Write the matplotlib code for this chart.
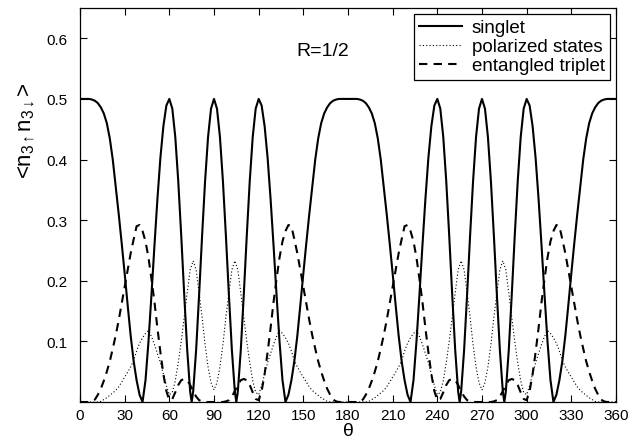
import numpy as np
import matplotlib
matplotlib.use('Agg')
import matplotlib.pyplot as plt

plt.rcParams['font.family'] = ['Liberation Sans', 'DejaVu Sans']
plt.rcParams['mathtext.fontset'] = 'custom'
plt.rcParams['mathtext.rm'] = 'Liberation Sans'
plt.rcParams['mathtext.it'] = 'Liberation Sans'

# angle grid, degrees (2 degree steps)
theta = np.arange(0, 362, 2)
# singlet also gets the exact zero points at 75, 105, 255, 285
theta_s = np.sort(np.concatenate([theta, [75, 105, 255, 285]]))

# singlet (solid)
singlet = [
    0.500, 0.500, 0.500, 0.500, 0.499, 0.497, 0.493, 0.486, 0.476, 0.460,
    0.435, 0.400, 0.355, 0.310, 0.262, 0.212, 0.160, 0.110, 0.068, 0.036,
    0.012, 0.000, 0.036, 0.100, 0.177, 0.258, 0.335, 0.403, 0.455, 0.489,
    0.500, 0.484, 0.437, 0.364, 0.274, 0.177, 0.086, 0.017, 0.000, 0.017, 0.086,
    0.177, 0.274, 0.364, 0.437, 0.484, 0.500, 0.484, 0.437, 0.364, 0.274,
    0.177, 0.086, 0.017, 0.000, 0.017, 0.086, 0.177, 0.274, 0.364, 0.437, 0.484,
    0.500, 0.489, 0.455, 0.403, 0.335, 0.258, 0.177, 0.100, 0.036, 0.000,
    0.012, 0.036, 0.068, 0.110, 0.160, 0.212, 0.262, 0.310, 0.355, 0.400,
    0.435, 0.460, 0.476, 0.486, 0.493, 0.497, 0.499, 0.500, 0.500, 0.500,
    0.500, 0.500, 0.500, 0.500, 0.499, 0.497, 0.493, 0.486, 0.476, 0.460,
    0.435, 0.400, 0.355, 0.310, 0.262, 0.212, 0.160, 0.110, 0.068, 0.036,
    0.012, 0.000, 0.036, 0.100, 0.177, 0.258, 0.335, 0.403, 0.455, 0.489,
    0.500, 0.484, 0.437, 0.364, 0.274, 0.177, 0.086, 0.017, 0.000, 0.017, 0.086,
    0.177, 0.274, 0.364, 0.437, 0.484, 0.500, 0.484, 0.437, 0.364, 0.274,
    0.177, 0.086, 0.017, 0.000, 0.017, 0.086, 0.177, 0.274, 0.364, 0.437, 0.484,
    0.500, 0.489, 0.455, 0.403, 0.335, 0.258, 0.177, 0.100, 0.036, 0.000,
    0.012, 0.036, 0.068, 0.110, 0.160, 0.212, 0.262, 0.310, 0.355, 0.400,
    0.435, 0.460, 0.476, 0.486, 0.493, 0.497, 0.499, 0.500, 0.500, 0.500,
    0.500,
]

# polarized states (dotted)
polarized = [
    0.000, 0.000, 0.000, 0.000, 0.000, 0.000, 0.000, 0.001, 0.004, 0.007,
    0.011, 0.015, 0.019, 0.025, 0.033, 0.041, 0.049, 0.058, 0.068, 0.084,
    0.097, 0.106, 0.113, 0.118, 0.108, 0.095, 0.080, 0.065, 0.046, 0.027,
    0.012, 0.016, 0.035, 0.065, 0.100, 0.140, 0.180, 0.218, 0.233, 0.218,
    0.180, 0.140, 0.095, 0.058, 0.032, 0.020, 0.032, 0.058, 0.095, 0.140,
    0.180, 0.218, 0.233, 0.218, 0.180, 0.140, 0.100, 0.065, 0.035, 0.016,
    0.012, 0.027, 0.046, 0.065, 0.080, 0.095, 0.108, 0.118, 0.113, 0.106,
    0.097, 0.084, 0.068, 0.058, 0.049, 0.041, 0.033, 0.025, 0.019, 0.015,
    0.011, 0.007, 0.004, 0.001, 0.000, 0.000, 0.000, 0.000, 0.000, 0.000,
    0.000, 0.000, 0.000, 0.000, 0.000, 0.000, 0.000, 0.001, 0.004, 0.007,
    0.011, 0.015, 0.019, 0.025, 0.033, 0.041, 0.049, 0.058, 0.068, 0.084,
    0.097, 0.106, 0.113, 0.118, 0.108, 0.095, 0.080, 0.065, 0.046, 0.027,
    0.012, 0.016, 0.035, 0.065, 0.100, 0.140, 0.180, 0.218, 0.233, 0.218,
    0.180, 0.140, 0.095, 0.058, 0.032, 0.020, 0.032, 0.058, 0.095, 0.140,
    0.180, 0.218, 0.233, 0.218, 0.180, 0.140, 0.100, 0.065, 0.035, 0.016,
    0.012, 0.027, 0.046, 0.065, 0.080, 0.095, 0.108, 0.118, 0.113, 0.106,
    0.097, 0.084, 0.068, 0.058, 0.049, 0.041, 0.033, 0.025, 0.019, 0.015,
    0.011, 0.007, 0.004, 0.001, 0.000, 0.000, 0.000, 0.000, 0.000, 0.000,
    0.000,
]

# entangled triplet (dashed)
triplet = [
    0.000, 0.000, 0.000, 0.000, 0.001, 0.004, 0.012, 0.022, 0.035, 0.050,
    0.067, 0.088, 0.110, 0.135, 0.162, 0.190, 0.218, 0.245, 0.268, 0.290,
    0.292, 0.282, 0.265, 0.238, 0.203, 0.165, 0.122, 0.082, 0.046, 0.018,
    0.003, 0.005, 0.016, 0.028, 0.036, 0.038, 0.036, 0.028, 0.018, 0.009,
    0.003, 0.001, 0.000, 0.000, 0.000, 0.000, 0.000, 0.000, 0.000, 0.001,
    0.003, 0.009, 0.018, 0.028, 0.036, 0.038, 0.036, 0.028, 0.016, 0.005,
    0.003, 0.018, 0.046, 0.082, 0.122, 0.165, 0.203, 0.238, 0.265, 0.282,
    0.292, 0.290, 0.268, 0.245, 0.218, 0.190, 0.162, 0.135, 0.110, 0.088,
    0.067, 0.050, 0.035, 0.022, 0.012, 0.004, 0.001, 0.000, 0.000, 0.000,
    0.000, 0.000, 0.000, 0.000, 0.001, 0.004, 0.012, 0.022, 0.035, 0.050,
    0.067, 0.088, 0.110, 0.135, 0.162, 0.190, 0.218, 0.245, 0.268, 0.290,
    0.292, 0.282, 0.265, 0.238, 0.203, 0.165, 0.122, 0.082, 0.046, 0.018,
    0.003, 0.005, 0.016, 0.028, 0.036, 0.038, 0.036, 0.028, 0.018, 0.009,
    0.003, 0.001, 0.000, 0.000, 0.000, 0.000, 0.000, 0.000, 0.000, 0.001,
    0.003, 0.009, 0.018, 0.028, 0.036, 0.038, 0.036, 0.028, 0.016, 0.005,
    0.003, 0.018, 0.046, 0.082, 0.122, 0.165, 0.203, 0.238, 0.265, 0.282,
    0.292, 0.290, 0.268, 0.245, 0.218, 0.190, 0.162, 0.135, 0.110, 0.088,
    0.067, 0.050, 0.035, 0.022, 0.012, 0.004, 0.001, 0.000, 0.000, 0.000,
    0.000,
]

xticks = list(range(0, 361, 30))
yticks = [0.1, 0.2, 0.3, 0.4, 0.5, 0.6]

fig = plt.figure(figsize=(6.37, 4.39), dpi=100)
ax = fig.add_axes([0.1256, 0.082, 0.8414, 0.8975])

ax.plot(theta_s, singlet, color='black', lw=1.5, ls='-', label='singlet')
ax.plot(theta, polarized, color='black', lw=0.8, ls=(0, (1, 2)),
        label='polarized states')
ax.plot(theta, triplet, color='black', lw=1.5, ls=(0, (4, 3)),
        label='entangled triplet')

ax.set_xlim(0, 360)
ax.set_ylim(0, 0.65)
ax.set_xticks(xticks)
ax.set_yticks(yticks)
ax.set_yticklabels(['%.1f' % v for v in yticks])
ax.tick_params(direction='in', top=True, right=True, labelsize=11,
               length=5, width=0.8)
ax.tick_params(axis='y', pad=9)
ax.tick_params(axis='x', pad=4)
for s in ax.spines.values():
    s.set_linewidth(0.9)

ax.set_xlabel(r'$\theta$', fontsize=14, labelpad=0)
ax.text(-0.099, 0.69, r'<n$_{3\uparrow}$n$_{3\downarrow}$>', fontsize=16,
        rotation=90, ha='center', va='center', transform=ax.transAxes)

ax.text(163, 0.58, 'R=1/2', fontsize=14, ha='center', va='center')

leg = ax.legend(loc='upper right', fontsize=13.5, fancybox=False,
                edgecolor='black', framealpha=1, borderaxespad=0.3,
                handlelength=2.3, handletextpad=0.5, labelspacing=0.1,
                borderpad=0.3)
leg.get_frame().set_linewidth(0.9)

fig.savefig('out.png', dpi=100)
